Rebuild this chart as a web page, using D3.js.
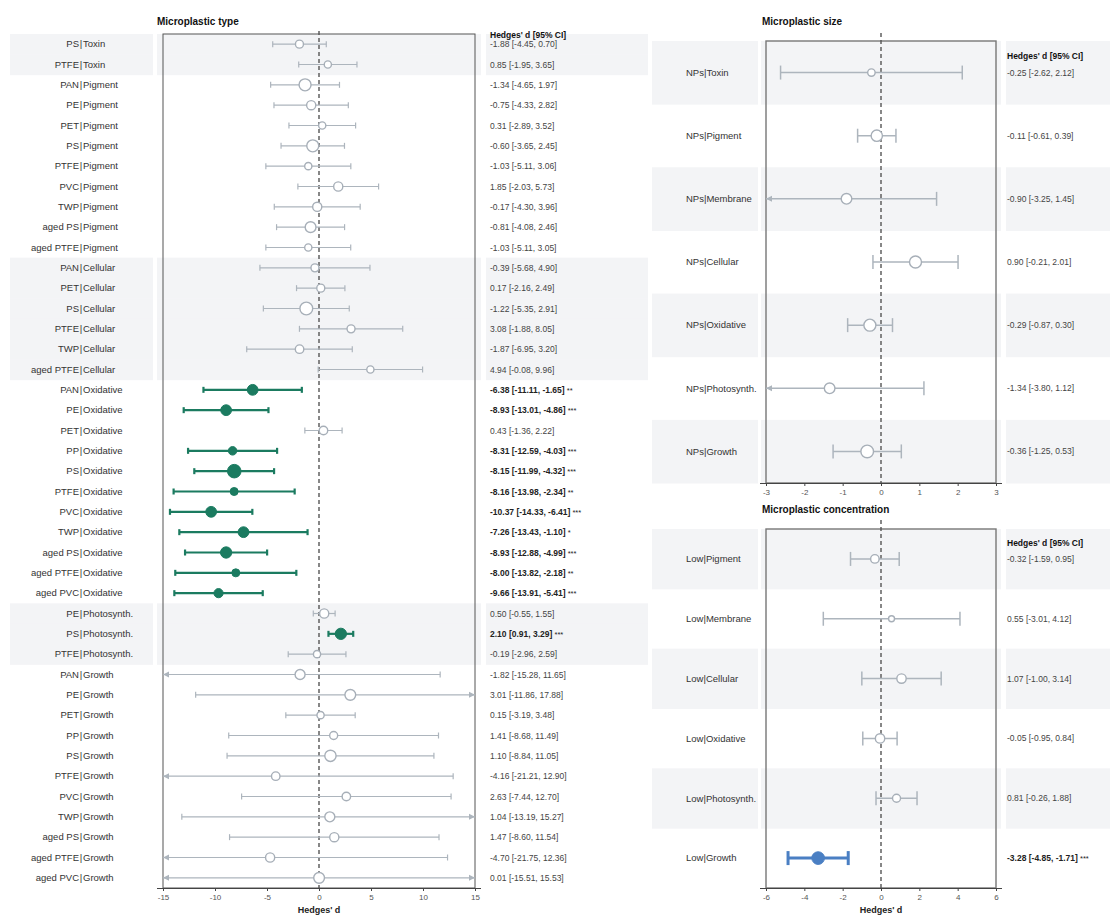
<!DOCTYPE html>
<html>
<head>
<meta charset="utf-8">
<script src="https://cdn.jsdelivr.net/npm/d3@7"></script>
<style>
  body { margin: 0; background: #fff; }
  svg { display: block; font-family: "Liberation Sans", Arial, sans-serif; }
</style>
</head>
<body>
<svg id="chart" width="1110" height="915"></svg>
<script>
// ---- Microplastic type (subgroup | outcome) ----
const typeLabels = [
  "PS|Toxin", "PTFE|Toxin",
  "PAN|Pigment", "PE|Pigment", "PET|Pigment", "PS|Pigment", "PTFE|Pigment", "PVC|Pigment", "TWP|Pigment", "aged PS|Pigment", "aged PTFE|Pigment",
  "PAN|Cellular", "PET|Cellular", "PS|Cellular", "PTFE|Cellular", "TWP|Cellular", "aged PTFE|Cellular",
  "PAN|Oxidative", "PE|Oxidative", "PET|Oxidative", "PP|Oxidative", "PS|Oxidative", "PTFE|Oxidative", "PVC|Oxidative", "TWP|Oxidative", "aged PS|Oxidative", "aged PTFE|Oxidative", "aged PVC|Oxidative",
  "PE|Photosynth.", "PS|Photosynth.", "PTFE|Photosynth.",
  "PAN|Growth", "PE|Growth", "PET|Growth", "PP|Growth", "PS|Growth", "PTFE|Growth", "PVC|Growth", "TWP|Growth", "aged PS|Growth", "aged PTFE|Growth", "aged PVC|Growth"
];
const typeEst = [
  -1.88, 0.85,
  -1.34, -0.75, 0.31, -0.60, -1.03, 1.85, -0.17, -0.81, -1.03,
  -0.39, 0.17, -1.22, 3.08, -1.87, 4.94,
  -6.38, -8.93, 0.43, -8.31, -8.15, -8.16, -10.37, -7.26, -8.93, -8.00, -9.66,
  0.50, 2.10, -0.19,
  -1.82, 3.01, 0.15, 1.41, 1.10, -4.16, 2.63, 1.04, 1.47, -4.70, 0.01
];
const typeLow = [
  -4.45, -1.95,
  -4.65, -4.33, -2.89, -3.65, -5.11, -2.03, -4.30, -4.08, -5.11,
  -5.68, -2.16, -5.35, -1.88, -6.95, -0.08,
  -11.11, -13.01, -1.36, -12.59, -11.99, -13.98, -14.33, -13.43, -12.88, -13.82, -13.91,
  -0.55, 0.91, -2.96,
  -15.28, -11.86, -3.19, -8.68, -8.84, -21.21, -7.44, -13.19, -8.60, -21.75, -15.51
];
const typeHigh = [
  0.70, 3.65,
  1.97, 2.82, 3.52, 2.45, 3.06, 5.73, 3.96, 2.46, 3.05,
  4.90, 2.49, 2.91, 8.05, 3.20, 9.96,
  -1.65, -4.86, 2.22, -4.03, -4.32, -2.34, -6.41, -1.10, -4.99, -2.18, -5.41,
  1.55, 3.29, 2.59,
  11.65, 17.88, 3.48, 11.49, 11.05, 12.90, 12.70, 15.27, 11.54, 12.36, 15.53
];
const typeSig = [
  "", "",
  "", "", "", "", "", "", "", "", "",
  "", "", "", "", "", "",
  "**", "***", "", "***", "***", "**", "***", "*", "***", "**", "***",
  "", "***", "",
  "", "", "", "", "", "", "", "", "", "", ""
];
// relative study weight (sets marker area)
const typeWeight = [
  16, 13,
  36, 21, 13, 36, 13, 21, 21, 29, 13,
  16, 16, 41, 16, 18, 13,
  29, 29, 18, 18, 46, 16, 29, 29, 32, 16, 21,
  21, 32, 13,
  25, 29, 13, 16, 32, 18, 18, 25, 21, 21, 29
];
const typeTicks = [-15, -10, -5, 0, 5, 10, 15];

// ---- Microplastic size ----
const sizeLabels = ["NPs|Toxin", "NPs|Pigment", "NPs|Membrane", "NPs|Cellular", "NPs|Oxidative", "NPs|Photosynth.", "NPs|Growth"];
const sizeEst  = [-0.25, -0.11, -0.90, 0.90, -0.29, -1.34, -0.36];
const sizeLow  = [-2.62, -0.61, -3.25, -0.21, -0.87, -3.80, -1.25];
const sizeHigh = [2.12, 0.39, 1.45, 2.01, 0.30, 1.12, 0.53];
const sizeSig  = ["", "", "", "", "", "", ""];
const sizeWeight = [14, 32, 28, 36, 36, 28, 40];
const sizeTicks = [-3, -2, -1, 0, 1, 2, 3];

// ---- Microplastic concentration ----
const concLabels = ["Low|Pigment", "Low|Membrane", "Low|Cellular", "Low|Oxidative", "Low|Photosynth.", "Low|Growth"];
const concEst  = [-0.32, 0.55, 1.07, -0.05, 0.81, -3.28];
const concLow  = [-1.59, -3.01, -1.00, -0.95, -0.26, -4.85];
const concHigh = [0.95, 4.12, 3.14, 0.84, 1.88, -1.71];
const concSig  = ["", "", "", "", "", "***"];
const concWeight = [18, 9, 22, 22, 16, 40];
const concTicks = [-6, -4, -2, 0, 2, 4, 6];

const svg = d3.select("#chart");
// plain hyphen-minus for negative numbers
const locale = d3.formatLocale({ decimal: ".", thousands: ",", grouping: [3], currency: ["", ""], minus: "-" });
const fmt = locale.format(".2f");
const fmtTick = locale.format("d");
const radius = d3.scaleSqrt().domain([0, 49]).range([0, 7]);
const BAND = "#f3f4f6";
const GREY = "#adb5bd";

function drawPanel(cfg) {
  const rows = cfg.labels.map((lab, i) => {
    const [sub, outc] = lab.split("|");
    return { lab, sub, outc, est: cfg.est[i], lo: cfg.low[i], hi: cfg.high[i], sig: cfg.sig[i], w: cfg.weight[i] };
  });
  const x = d3.scaleLinear().domain(cfg.domain).range([cfg.x0, cfg.x1]);
  const y = d3.scaleBand().domain(cfg.labels).range([cfg.y0, cfg.y1]).padding(0);
  const g = svg.append("g");
  const rh = y.bandwidth();

  // alternating shaded bands
  let shadeRows;
  if (cfg.shadeBy === "group") {
    const groups = [];
    rows.forEach(r => { if (!groups.length || groups[groups.length - 1] !== r.outc) groups.push(r.outc); });
    shadeRows = rows.filter(r => groups.indexOf(r.outc) % 2 === 0);
  } else {
    shadeRows = rows.filter((r, i) => i % 2 === cfg.shadeOffset);
  }
  cfg.bands.forEach(([a, b]) => {
    g.append("g").selectAll("rect").data(shadeRows).join("rect")
      .attr("x", a).attr("width", b - a)
      .attr("y", d => y(d.lab)).attr("height", rh + 0.5)
      .attr("fill", BAND);
  });

  // title
  g.append("text").attr("x", cfg.titleX).attr("y", cfg.titleY)
    .attr("font-size", 10).attr("font-weight", "bold").attr("fill", "#111").text(cfg.title);

  // frame
  g.append("rect").attr("x", cfg.x0).attr("y", cfg.y0)
    .attr("width", cfg.x1 - cfg.x0).attr("height", cfg.y1 - cfg.y0)
    .attr("fill", "none").attr("stroke", cfg.frameColor).attr("stroke-width", cfg.frameWidth);

  // zero reference
  g.append("line").attr("x1", x(0)).attr("x2", x(0)).attr("y1", cfg.zeroTop).attr("y2", cfg.y1)
    .attr("stroke", "#555").attr("stroke-width", 1.4).attr("stroke-dasharray", "4,3");

  // x axis
  const axis = g.append("g").attr("transform", `translate(0,${cfg.y1})`)
    .call(d3.axisBottom(x).tickValues(cfg.ticks).tickSize(3).tickPadding(3).tickFormat(fmtTick));
  axis.select(".domain").attr("d", `M${cfg.x0 - 6},0.5H${cfg.x1 + 6}`).attr("stroke", "#444");
  axis.selectAll(".tick line").attr("stroke", "#444");
  axis.selectAll(".tick text").attr("font-size", 8).attr("fill", "#555")
    .attr("font-family", "Liberation Sans, Arial, sans-serif");
  if (cfg.axisTitle) {
    g.append("text").attr("x", x(0)).attr("y", 913).attr("text-anchor", "middle")
      .attr("font-size", 9).attr("font-weight", "bold").attr("fill", "#222").text("Hedges' d");
  }

  // row labels
  const lab = g.append("g").attr("font-size", 9.5).attr("fill", "#333");
  if (cfg.pipeX) {
    rows.forEach(r => {
      const cy = y(r.lab) + rh / 2 + 3.3;
      lab.append("text").attr("x", cfg.pipeX - 2).attr("y", cy).attr("text-anchor", "end").text(r.sub);
      lab.append("text").attr("x", cfg.pipeX).attr("y", cy).attr("text-anchor", "middle").text("|");
      lab.append("text").attr("x", cfg.pipeX + 2).attr("y", cy).text(r.outc);
    });
  } else {
    rows.forEach(r => {
      lab.append("text").attr("x", cfg.labelX).attr("y", y(r.lab) + rh / 2 + 3.3).text(r.lab);
    });
  }

  // confidence intervals
  const [dmin, dmax] = cfg.domain;
  rows.forEach(r => {
    const cy = y(r.lab) + rh / 2;
    const col = r.sig ? cfg.sigColor : GREY;
    const lw = r.sig ? cfg.sigWidth : cfg.lineWidth;
    const lo = Math.max(r.lo, dmin), hi = Math.min(r.hi, dmax);
    g.append("line").attr("x1", x(lo)).attr("x2", x(hi)).attr("y1", cy).attr("y2", cy)
      .attr("stroke", col).attr("stroke-width", lw);
    const cap = cfg.cap / 2;
    if (r.lo < dmin) {
      const t = x(dmin);
      g.append("path").attr("d", `M${t},${cy}L${t + 6},${cy - 3}L${t + 6},${cy + 3}Z`).attr("fill", col);
    } else {
      g.append("line").attr("x1", x(r.lo)).attr("x2", x(r.lo)).attr("y1", cy - cap).attr("y2", cy + cap)
        .attr("stroke", col).attr("stroke-width", lw);
    }
    if (r.hi > dmax) {
      const t = x(dmax);
      g.append("path").attr("d", `M${t},${cy}L${t - 6},${cy - 3}L${t - 6},${cy + 3}Z`).attr("fill", col);
    } else {
      g.append("line").attr("x1", x(r.hi)).attr("x2", x(r.hi)).attr("y1", cy - cap).attr("y2", cy + cap)
        .attr("stroke", col).attr("stroke-width", lw);
    }
    g.append("circle").attr("cx", x(r.est)).attr("cy", cy).attr("r", radius(r.w))
      .attr("fill", r.sig ? cfg.sigColor : "#fff")
      .attr("stroke", r.sig ? cfg.sigColor : "#a7afb8").attr("stroke-width", r.sig ? 1 : 1.4);
  });

  // estimate column
  g.append("text").attr("x", cfg.textX).attr("y", cfg.headerY)
    .attr("font-size", 8.5).attr("font-weight", "bold").attr("fill", "#111").text("Hedges' d [95% CI]");
  rows.forEach(r => {
    const t = g.append("text").attr("x", cfg.textX).attr("y", y(r.lab) + rh / 2 + 3)
      .attr("font-size", 8.5)
      .attr("font-weight", r.sig ? "bold" : "normal")
      .attr("fill", r.sig ? "#222" : "#444")
      .text(`${fmt(r.est)} [${fmt(r.lo)}, ${fmt(r.hi)}]`);
    if (r.sig) t.append("tspan").attr("font-weight", "normal").attr("font-size", 7.5).text(" " + r.sig);
  });
}

drawPanel({
  title: "Microplastic type", titleX: 157, titleY: 25,
  labels: typeLabels, est: typeEst, low: typeLow, high: typeHigh, sig: typeSig, weight: typeWeight,
  domain: [-15, 15], ticks: typeTicks,
  x0: 163, x1: 475, y0: 34, y1: 888, zeroTop: 31,
  shadeBy: "group", bands: [[10, 153], [157, 481], [486, 648]],
  pipeX: 81, textX: 490, headerY: 38,
  frameColor: "#555", frameWidth: 1,
  sigColor: "#1b7b60", sigWidth: 2.2, lineWidth: 1.2, cap: 6,
  axisTitle: true
});

drawPanel({
  title: "Microplastic size", titleX: 762, titleY: 25,
  labels: sizeLabels, est: sizeEst, low: sizeLow, high: sizeHigh, sig: sizeSig, weight: sizeWeight,
  domain: [-3, 3], ticks: sizeTicks,
  x0: 766, x1: 996, y0: 41, y1: 483, zeroTop: 33,
  shadeBy: "alt", shadeOffset: 0, bands: [[652, 758], [761, 1001], [1006, 1110]],
  labelX: 686, textX: 1007, headerY: 59,
  frameColor: "#777", frameWidth: 1.4,
  sigColor: "#4a7fc3", sigWidth: 3, lineWidth: 1.5, cap: 14,
  axisTitle: false
});

drawPanel({
  title: "Microplastic concentration", titleX: 762, titleY: 513,
  labels: concLabels, est: concEst, low: concLow, high: concHigh, sig: concSig, weight: concWeight,
  domain: [-6, 6], ticks: concTicks,
  x0: 766, x1: 996, y0: 529, y1: 888, zeroTop: 520,
  shadeBy: "alt", shadeOffset: 0, bands: [[652, 758], [761, 1001], [1006, 1110]],
  labelX: 686, textX: 1007, headerY: 546,
  frameColor: "#777", frameWidth: 1.4,
  sigColor: "#4a7fc3", sigWidth: 3, lineWidth: 1.5, cap: 14,
  axisTitle: true
});
</script>
</body>
</html>
